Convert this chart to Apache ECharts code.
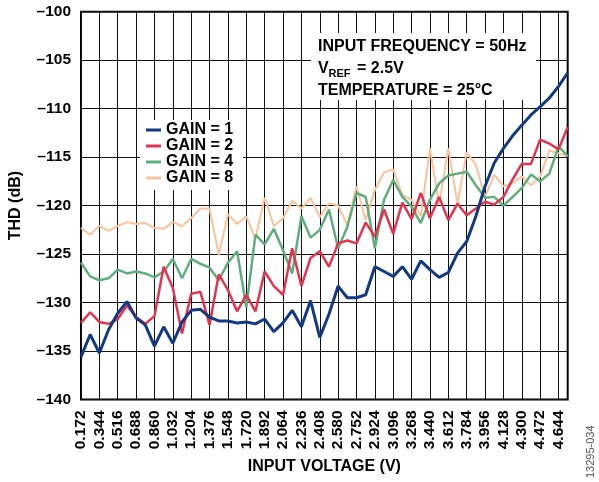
<!DOCTYPE html>
<html><head><meta charset="utf-8">
<script src="https://cdn.jsdelivr.net/npm/echarts@6/dist/echarts.min.js"></script>
<style>html,body{margin:0;padding:0;background:#fff;}#c{width:599px;height:482px;}</style>
</head><body><div id="c"></div>
<script>
var categories = ['0.172','0.258','0.344','0.430','0.516','0.602','0.688','0.774','0.860','0.946','1.032','1.118','1.204','1.290','1.376','1.462','1.548','1.634','1.720','1.806','1.892','1.978','2.064','2.150','2.236','2.322','2.408','2.494','2.580','2.666','2.752','2.838','2.924','3.010','3.096','3.182','3.268','3.354','3.440','3.526','3.612','3.698','3.784','3.870','3.956','4.042','4.128','4.214','4.300','4.386','4.472','4.558','4.644','4.730'];
var gain1 = [-135.6,-133.3,-135.2,-132.8,-131.1,-129.9,-131.6,-132.3,-134.5,-132.5,-134.2,-132.0,-130.8,-130.7,-131.5,-131.9,-131.9,-132.1,-132.0,-132.2,-131.7,-133.0,-132.1,-130.8,-132.5,-129.8,-133.6,-131.2,-128.3,-129.5,-129.5,-129.2,-126.3,-126.8,-127.3,-126.3,-127.6,-125.7,-126.6,-127.4,-126.9,-124.9,-123.7,-121.1,-118.0,-115.6,-114.1,-112.8,-111.7,-110.65,-109.8,-108.9,-107.7,-106.3];
var gain2 = [-132.1,-131.0,-132.0,-132.2,-131.7,-130.3,-131.5,-132.2,-131.4,-126.3,-128.5,-133.2,-129.1,-128.9,-132.3,-127.1,-128.7,-130.9,-129.2,-130.9,-126.8,-128.3,-129.2,-124.4,-128.3,-125.4,-124.7,-126.3,-123.9,-123.6,-123.9,-121.75,-123.2,-120.4,-122.9,-119.7,-121.4,-118.7,-121.3,-119.1,-121.5,-119.8,-121.0,-120.3,-119.6,-119.9,-119.1,-117.3,-115.7,-115.7,-113.2,-113.6,-114.2,-111.9];
var gain4 = [-125.9,-127.3,-127.7,-127.5,-126.6,-127.0,-126.8,-127.0,-127.4,-126.8,-125.5,-127.5,-125.5,-126.0,-126.4,-127.7,-125.9,-124.7,-130.5,-123.0,-124.0,-122.4,-124.6,-127.0,-121.1,-123.3,-122.5,-120.4,-124.4,-122.2,-118.7,-119.1,-124.4,-119.4,-117.35,-119.1,-120.1,-121.8,-119.4,-117.7,-116.9,-116.7,-116.5,-117.9,-119.2,-119.1,-120.0,-119.1,-118.2,-116.8,-117.5,-116.7,-113.9,-114.9];
var gain8 = [-122.3,-123.0,-122.1,-122.6,-122.1,-121.7,-121.9,-121.8,-122.3,-122.4,-121.7,-122.1,-121.3,-120.3,-120.3,-125.1,-120.9,-121.9,-121.1,-123.4,-119.2,-122.1,-121.3,-119.5,-120.3,-119.2,-121.2,-119.75,-120.0,-122.0,-118.0,-121.5,-118.4,-116.6,-116.25,-118.9,-119.4,-121.1,-114.1,-119.9,-114.1,-119.8,-114.5,-115.8,-119.1,-116.8,-118.0,-117.7,-117.0,-117.9,-117.0,-114.3,-114.6,-114.9];
var seriesNames = ['GAIN = 1','GAIN = 2','GAIN = 4','GAIN = 8'];
var yTicks = {min: -140, max: -100, interval: 5};

var F = '"Liberation Sans", Arial, sans-serif';
var chart = echarts.init(document.getElementById('c'), null, {renderer: 'canvas'});
var colors = ['#123a82', '#e3334f', '#5fae7d', '#fcc29b'];
var widths = [3, 2.5, 2.5, 2];
var datas = [gain1, gain2, gain4, gain8];
var series = [];
for (var k = 3; k >= 0; k--) {
  series.push({
    name: seriesNames[k], type: 'line', data: datas[k], symbol: 'none',
    lineStyle: {color: colors[k], width: widths[k]}, itemStyle: {color: colors[k]},
    z: 10 - k, animation: false
  });
}
chart.setOption({
  animation: false,
  grid: {left: 81, right: 31.3, top: 11.7, bottom: 82.5, show: true, borderColor: '#000', borderWidth: 2, backgroundColor: 'transparent', containLabel: false},
  legend: {
    data: seriesNames, orient: 'vertical', left: 140, top: 120,
    padding: [2, 10, 4, 6], itemGap: 0, itemWidth: 15, itemHeight: 3, icon: 'rect',
    backgroundColor: '#fff', selectedMode: false, z: 20,
    textStyle: {fontFamily: F, fontWeight: 'bold', fontSize: 16, color: '#000', lineHeight: 15.7}
  },
  xAxis: {
    type: 'category', data: categories, boundaryGap: false,
    name: 'INPUT VOLTAGE (V)', nameLocation: 'middle', nameGap: 59,
    nameTextStyle: {fontFamily: F, fontWeight: 'bold', fontSize: 16, color: '#000'},
    axisLine: {show: false}, axisTick: {show: false},
    axisLabel: {interval: 1, rotate: 90, margin: 11, fontFamily: F, fontWeight: 'bold', fontSize: 15.5, color: '#000'},
    splitLine: {show: true, interval: 1, lineStyle: {color: '#111', width: 1}}
  },
  yAxis: {
    type: 'value', min: yTicks.min, max: yTicks.max, interval: yTicks.interval,
    name: 'THD (dB)', nameLocation: 'middle', nameGap: 57,
    nameTextStyle: {fontFamily: F, fontWeight: 'bold', fontSize: 16, color: '#000'},
    axisLine: {show: false}, axisTick: {show: false},
    axisLabel: {margin: 10, fontFamily: F, fontWeight: 'bold', fontSize: 15.5, color: '#000',
      formatter: function (v) { return String(v).replace('-', '\u2013'); }},
    splitLine: {show: true, lineStyle: {color: '#111', width: 1}}
  },
  graphic: [
    {type: 'rect', left: 311, top: 33, shape: {width: 225, height: 67}, style: {fill: '#fff'}, z: 50},
    {type: 'text', left: 318, top: 39, z: 51, style: {text: 'INPUT FREQUENCY = 50Hz', font: 'bold 16px ' + F, fill: '#000'}},
    {type: 'text', left: 318, top: 61, z: 51, style: {text: 'V', font: 'bold 16px ' + F, fill: '#000'}},
    {type: 'text', left: 328.5, top: 68, z: 51, style: {text: 'REF', font: 'bold 11px ' + F, fill: '#000'}},
    {type: 'text', left: 357, top: 61, z: 51, style: {text: '= 2.5V', font: 'bold 16px ' + F, fill: '#000'}},
    {type: 'text', left: 318, top: 83, z: 51, style: {text: 'TEMPERATURE = 25\u00B0C', font: 'bold 16px ' + F, fill: '#000'}},
    {type: 'text', x: 585, y: 478, rotation: Math.PI / 2, z: 51, style: {text: '13295-034', font: '11px ' + F, fill: '#555', textVerticalAlign: 'top'}}
  ],
  series: series
});
</script></body></html>
